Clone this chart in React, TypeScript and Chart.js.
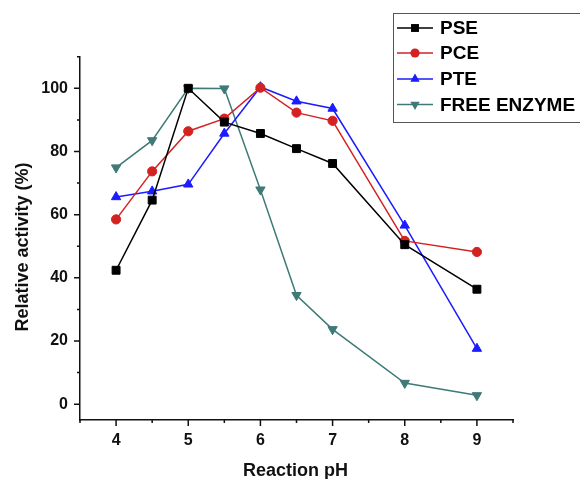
import React, { useEffect, useRef } from 'react';
import { Chart, registerables } from 'chart.js';

Chart.register(...registerables);

const phValues = [4, 4.5, 5, 5.5, 6, 6.5, 7, 8, 9];
const pseValues = [42.4, 64.6, 100, 89.3, 85.7, 80.9, 76.2, 50.5, 36.4];
const pceValues = [58.5, 73.7, 86.4, 90.4, 100.2, 92.3, 89.7, 51.7, 48.2];
const pteValues = [65.6, 67.4, 69.6, 85.7, 100.4, 95.9, 93.6, 56.6, 17.6];
const freeValues = [74.9, 83.5, 100, 99.9, 67.9, 34.5, 23.7, 6.7, 2.8];
const seriesLabels = ['PSE', 'PCE', 'PTE', 'FREE ENZYME'];
const xTickValues = [3.5, 4, 4.5, 5, 5.5, 6, 6.5, 7, 7.5, 8, 8.5, 9, 9.5];
const xMajorTicks = [4, 5, 6, 7, 8, 9];
const yTickValues = [0, 10, 20, 30, 40, 50, 60, 70, 80, 90, 100, 110];
const yMajorTicks = [0, 20, 40, 60, 80, 100];
const xTitle = 'Reaction pH';
const yTitle = 'Relative activity (%)';

const colors = ['#000000', '#d42222', '#1c1cff', '#3f7a77'];
const styles = ['rect', 'circle', 'triangle', 'triangle'];
const rotations = [0, 0, 0, 180];
const radii = [5.6, 4.6, 5.4, 5.4];

const FONT = 'Arial, "Liberation Sans", Helvetica, sans-serif';

function drawMarker(ctx: CanvasRenderingContext2D, kind: number, x: number, y: number) {
  const r = radii[kind];
  ctx.fillStyle = colors[kind];
  ctx.beginPath();
  if (styles[kind] === 'rect') {
    const s = Math.SQRT1_2 * r;
    ctx.rect(x - s, y - s, 2 * s, 2 * s);
  } else if (styles[kind] === 'circle') {
    ctx.arc(x, y, r, 0, Math.PI * 2);
  } else {
    let a = (rotations[kind] * Math.PI) / 180;
    ctx.moveTo(x + Math.sin(a) * r, y - Math.cos(a) * r);
    a += (2 * Math.PI) / 3;
    ctx.lineTo(x + Math.sin(a) * r, y - Math.cos(a) * r);
    a += (2 * Math.PI) / 3;
    ctx.lineTo(x + Math.sin(a) * r, y - Math.cos(a) * r);
    ctx.closePath();
  }
  ctx.fill();
}

const decorPlugin = {
  id: 'decor',
  afterDraw(chart: any) {
    const ctx: CanvasRenderingContext2D = chart.ctx;
    const xs = chart.scales.x;
    const ys = chart.scales.y;
    const area = chart.chartArea;
    ctx.save();
    ctx.strokeStyle = '#111';
    ctx.lineWidth = 1.5;
    ctx.beginPath();
    yTickValues.forEach((v) => {
      const py = ys.getPixelForValue(v);
      const len = yMajorTicks.includes(v) ? 6 : 3;
      ctx.moveTo(area.left - len, py);
      ctx.lineTo(area.left, py);
    });
    xTickValues.forEach((v) => {
      const px = xs.getPixelForValue(v);
      const len = xMajorTicks.includes(v) ? 6 : 3;
      ctx.moveTo(px, area.bottom);
      ctx.lineTo(px, area.bottom + len);
    });
    ctx.stroke();

    // axis titles
    ctx.fillStyle = '#111';
    ctx.font = `bold 18px ${FONT}`;
    ctx.textAlign = 'center';
    ctx.textBaseline = 'middle';
    ctx.fillText(xTitle, 295.5, 471);
    ctx.save();
    ctx.translate(23, 247);
    ctx.rotate(-Math.PI / 2);
    ctx.fillText(yTitle, 0, 0);
    ctx.restore();

    // legend
    ctx.strokeStyle = '#555';
    ctx.lineWidth = 1;
    ctx.strokeRect(393.5, 13.5, 300, 109);
    const rowY = [28, 53, 79, 104.5];
    ctx.font = `bold 19px ${FONT}`;
    ctx.textAlign = 'left';
    chart.data.datasets.forEach((ds: any, i: number) => {
      const yy = rowY[i];
      ctx.strokeStyle = colors[i];
      ctx.lineWidth = 1.5;
      ctx.beginPath();
      ctx.moveTo(397, yy);
      ctx.lineTo(433, yy);
      ctx.stroke();
      drawMarker(ctx, i, 415, yy);
      ctx.fillStyle = '#000';
      ctx.fillText(ds.label, 440, yy + 1);
    });
    ctx.restore();
  },
};

export default function App() {
  const ref = useRef<HTMLCanvasElement | null>(null);
  useEffect(() => {
    if (!ref.current) return;
    const seriesValues = [pseValues, pceValues, pteValues, freeValues];
    const chart = new Chart(ref.current, {
      type: 'line',
      data: {
        datasets: seriesLabels.map((label, i) => ({
          label,
          data: phValues.map((x, j) => ({ x, y: seriesValues[i][j] })),
          borderColor: colors[i],
          backgroundColor: colors[i],
          borderWidth: 1.5,
          pointStyle: styles[i] as any,
          pointRotation: rotations[i],
          pointRadius: radii[i],
          pointBorderWidth: 1,
          pointBorderColor: colors[i],
          pointBackgroundColor: colors[i],
          tension: 0,
          fill: false,
        })),
      },
      options: {
        responsive: false,
        animation: false,
        layout: { padding: { top: 56.7, right: 67, left: 0, bottom: 0 } },
        plugins: {
          legend: { display: false },
          tooltip: { enabled: false },
        },
        scales: {
          x: {
            type: 'linear',
            min: 3.5,
            max: 9.5,
            afterBuildTicks: (scale: any) => {
              scale.ticks = xTickValues.map((v) => ({ value: v }));
            },
            afterFit: (scale: any) => {
              scale.height = 59;
            },
            ticks: {
              autoSkip: false,
              maxRotation: 0,
              padding: 11,
              color: '#111',
              font: { family: FONT, size: 16, weight: 'bold' },
              callback: (v: any) => (xMajorTicks.includes(Number(v)) ? String(v) : ''),
            },
            grid: { display: false, drawTicks: false },
            border: { display: true, color: '#111', width: 1.5 },
          },
          y: {
            type: 'linear',
            min: -5,
            max: 110,
            afterBuildTicks: (scale: any) => {
              scale.ticks = yTickValues.map((v) => ({ value: v }));
            },
            afterFit: (scale: any) => {
              scale.width = 80;
            },
            ticks: {
              autoSkip: false,
              padding: 12,
              color: '#111',
              font: { family: FONT, size: 16, weight: 'bold' },
              callback: (v: any) => (yMajorTicks.includes(Number(v)) ? String(v) : ''),
            },
            grid: { display: false, drawTicks: false },
            border: { display: true, color: '#111', width: 1.5 },
          },
        },
      },
      plugins: [decorPlugin],
    });
    return () => chart.destroy();
  }, []);
  return (
    <div style={{ position: 'absolute', left: 0, top: 0, width: 580, height: 479, background: '#fff' }}>
      <canvas ref={ref} width={580} height={479} style={{ display: 'block' }} />
    </div>
  );
}
